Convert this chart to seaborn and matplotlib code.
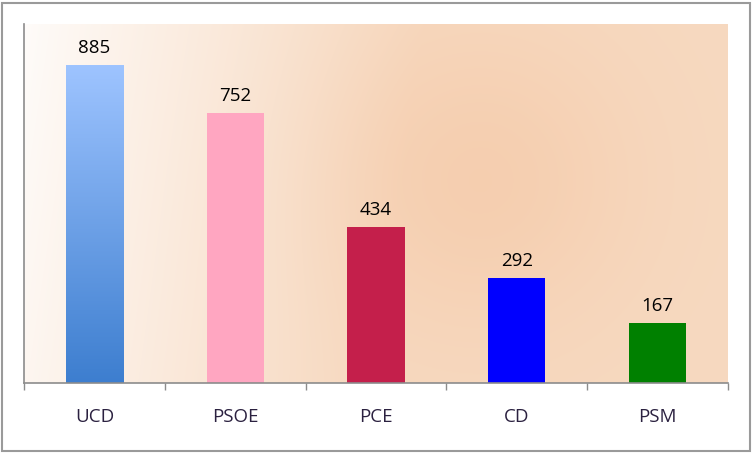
import numpy as np
import pandas as pd
import seaborn as sns
import matplotlib
matplotlib.use("Agg")
from matplotlib import pyplot as plt
from matplotlib.colors import to_rgb
from matplotlib.patches import Rectangle

# datos
partidos = ["UCD", "PSOE", "PCE", "CD", "PSM"]
escanos = [885, 752, 434, 292, 167]
colores = ["#6FA0E8", "#FFA6C1", "#C41F4B", "#0000FF", "#008000"]

sns.set_theme(style="white")
plt.rcParams["font.family"] = ["Open Sans", "DejaVu Sans"]

df = pd.DataFrame({"partido": partidos, "escanos": escanos})

fig = plt.figure(figsize=(7.53, 4.53), dpi=100)
fig.patch.set_facecolor("white")
ax = fig.add_axes([24 / 753, 70 / 453, 704 / 753, 359 / 453])

# fondo degradado (casi blanco a la izquierda -> melocoton)
W, H = 704, 359
xx, yy = np.meshgrid(np.arange(W), np.arange(H))
f = 0.08 + 0.92 * np.clip((xx + 0.15 * yy) / 400, 0, 1) ** 0.9
d = np.hypot(xx - 456, yy - 156)
g = np.exp(-(d / 150) ** 2)
white = np.array([1.0, 1.0, 1.0])
peach = np.array(to_rgb("#F7D9C0"))
core = np.array(to_rgb("#F5CAA9"))
img = white + (peach - white) * f[..., None]
img = img + (core - img) * (0.7 * g)[..., None]
ax.imshow(img, extent=[-0.5, 4.5, 0, 1000], aspect="auto", zorder=0,
          origin="upper")

sns.barplot(data=df, x="partido", y="escanos", hue="partido",
            palette=colores, legend=False, width=0.405, ax=ax,
            saturation=1, zorder=2, edgecolor="none", linewidth=0)

# barra UCD con degradado vertical
p0 = ax.patches[0]
x0, w0, h0 = p0.get_x(), p0.get_width(), p0.get_height()
top = np.array(to_rgb("#9EC4FF"))
bot = np.array(to_rgb("#3D7ECF"))
t = np.linspace(0, 1, 200)[:, None, None]
grad = top + (bot - top) * t
grad = np.repeat(grad, 2, axis=1)
im = ax.imshow(grad, extent=[x0, x0 + w0, 0, h0], aspect="auto",
               origin="upper", zorder=3)
im.set_clip_path(p0)

for i, v in enumerate(escanos):
    ax.text(i, v + 22, str(v), ha="center", va="bottom", fontsize=13.5,
            color="black", zorder=4)

ax.set_xlim(-0.5, 4.5)
ax.set_ylim(0, 1000)
ax.set_xlabel("")
ax.set_ylabel("")
ax.set_yticks([])
ax.set_xticks(range(5))
ax.set_xticklabels(partidos, fontsize=13.5, color="#2B2140")
ax.tick_params(axis="x", which="major", length=0, pad=18)
ax.set_xticks(np.arange(-0.5, 5, 1), minor=True)
ax.tick_params(axis="x", which="minor", length=5, width=1,
               color="#8C8C8C", direction="out", bottom=True)
for s in ["top", "right"]:
    ax.spines[s].set_visible(False)
for s in ["left", "bottom"]:
    ax.spines[s].set_color("#8C8C8C")
    ax.spines[s].set_linewidth(1.2)
    ax.spines[s].set_zorder(5)

# marco exterior
fig.patches.append(Rectangle((2 / 753, 2 / 453), 748 / 753, 448 / 453,
                             transform=fig.transFigure, fill=False,
                             edgecolor="#9A9A9A", linewidth=1.5))

fig.savefig("out.png", dpi=100)
